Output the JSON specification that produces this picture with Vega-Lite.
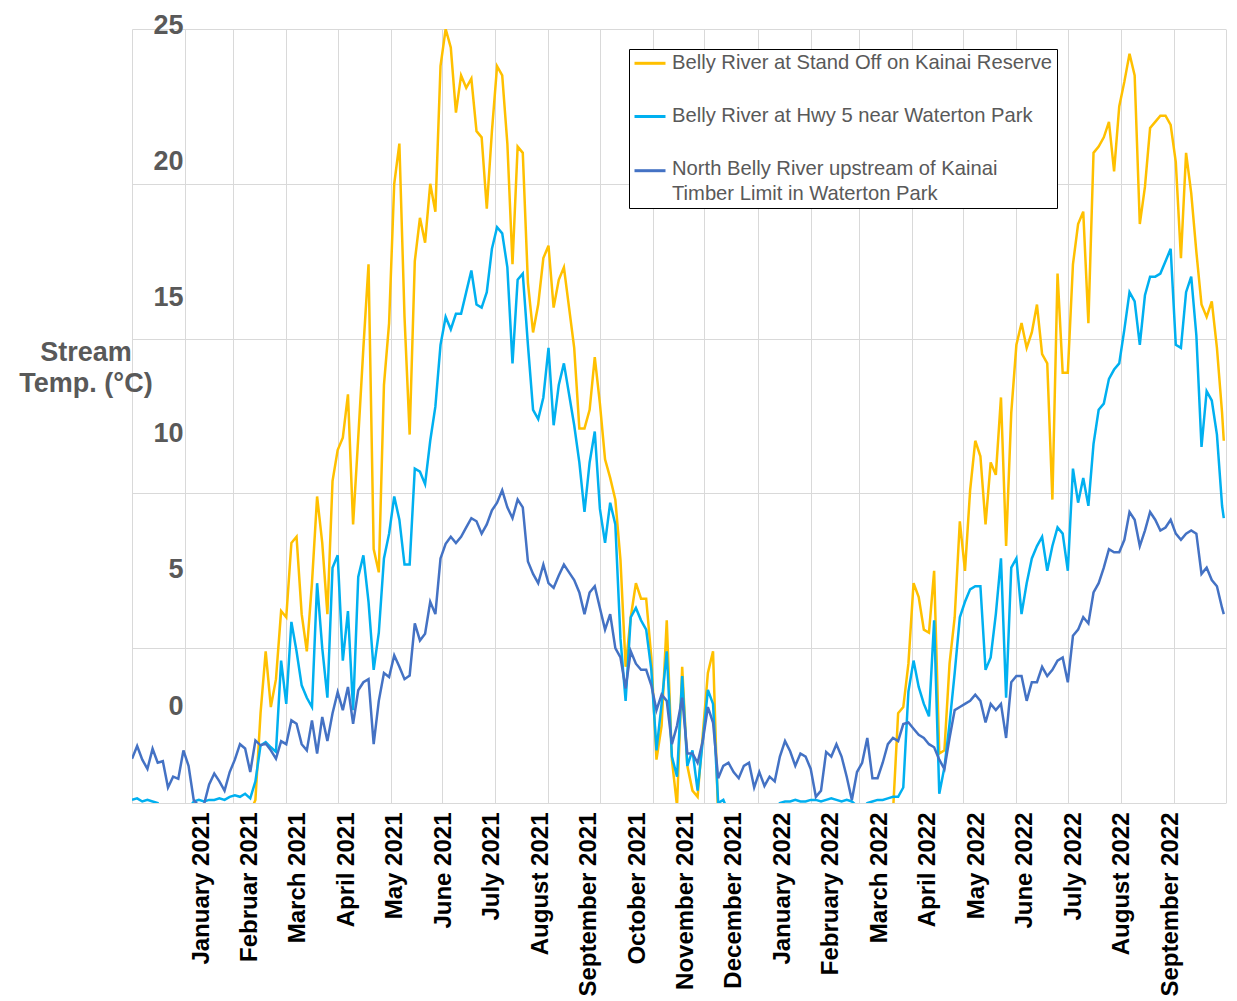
{
  "$schema": "https://vega.github.io/schema/vega-lite/v6.json",
  "width": 1093.5,
  "height": 774,
  "autosize": {"type": "none"},
  "padding": {"left": 132, "top": 29, "right": 11.5, "bottom": 198},
  "background": "white",
  "config": {"view": {"stroke": null}, "font": "Liberation Sans"},
  "datasets": {
    "names": [
      {"key": "Y", "site": "Belly River at Stand Off on Kainai Reserve"},
      {"key": "H", "site": "Belly River at Hwy 5 near Waterton Park"},
      {"key": "N", "site": "North Belly River upstream of Kainai Timber Limit in Waterton Park"}
    ]
  },
  "data": {"values": [
    {"d":"2021-01-01","Y":-0.5,"H":0.1,"N":1.43},
    {"d":"2021-01-04","Y":-0.5,"H":0.15,"N":1.84},
    {"d":"2021-01-07","Y":-0.5,"H":0.05,"N":1.4},
    {"d":"2021-01-10","Y":-0.5,"H":0.1,"N":1.1},
    {"d":"2021-01-13","Y":-0.5,"H":0.05,"N":1.75},
    {"d":"2021-01-16","Y":-0.5,"H":0.0,"N":1.3},
    {"d":"2021-01-19","Y":-0.5,"H":-0.3,"N":1.35},
    {"d":"2021-01-22","Y":-0.5,"H":-0.3,"N":0.5},
    {"d":"2021-01-25","Y":-0.5,"H":-0.3,"N":0.85},
    {"d":"2021-01-28","Y":-0.5,"H":-0.3,"N":0.78},
    {"d":"2021-01-31","Y":-0.5,"H":-0.3,"N":1.7},
    {"d":"2021-02-03","Y":-0.5,"H":-0.2,"N":1.2},
    {"d":"2021-02-06","Y":-0.5,"H":0.05,"N":0.1},
    {"d":"2021-02-09","Y":-0.5,"H":0.1,"N":-0.1},
    {"d":"2021-02-12","Y":-0.5,"H":0.05,"N":-0.05},
    {"d":"2021-02-15","Y":-0.5,"H":0.1,"N":0.6},
    {"d":"2021-02-18","Y":-0.5,"H":0.1,"N":0.95},
    {"d":"2021-02-21","Y":-0.5,"H":0.15,"N":0.7},
    {"d":"2021-02-24","Y":-0.5,"H":0.1,"N":0.4},
    {"d":"2021-02-27","Y":-0.5,"H":0.2,"N":1.0},
    {"d":"2021-03-02","Y":-0.5,"H":0.25,"N":1.4},
    {"d":"2021-03-05","Y":-0.5,"H":0.2,"N":1.9},
    {"d":"2021-03-08","Y":-0.5,"H":0.3,"N":1.76},
    {"d":"2021-03-11","Y":-0.3,"H":0.15,"N":1.0},
    {"d":"2021-03-14","Y":0.1,"H":0.7,"N":2.02},
    {"d":"2021-03-17","Y":2.9,"H":1.86,"N":1.86},
    {"d":"2021-03-20","Y":4.9,"H":1.97,"N":1.92},
    {"d":"2021-03-23","Y":3.1,"H":1.8,"N":1.7},
    {"d":"2021-03-26","Y":4.0,"H":1.65,"N":1.43},
    {"d":"2021-03-29","Y":6.2,"H":4.6,"N":2.0},
    {"d":"2021-04-01","Y":6.0,"H":3.2,"N":1.9},
    {"d":"2021-04-04","Y":8.4,"H":5.85,"N":2.67},
    {"d":"2021-04-07","Y":8.6,"H":4.9,"N":2.56},
    {"d":"2021-04-10","Y":6.1,"H":3.8,"N":1.9},
    {"d":"2021-04-13","Y":4.9,"H":3.4,"N":1.7},
    {"d":"2021-04-16","Y":7.1,"H":3.1,"N":2.67},
    {"d":"2021-04-19","Y":9.9,"H":7.1,"N":1.6},
    {"d":"2021-04-22","Y":8.4,"H":5.0,"N":2.78},
    {"d":"2021-04-25","Y":6.1,"H":3.4,"N":2.0},
    {"d":"2021-04-28","Y":10.4,"H":7.6,"N":2.9},
    {"d":"2021-05-01","Y":11.4,"H":8.0,"N":3.58},
    {"d":"2021-05-04","Y":11.8,"H":4.6,"N":3.0},
    {"d":"2021-05-07","Y":13.2,"H":6.2,"N":3.75},
    {"d":"2021-05-10","Y":9.0,"H":3.0,"N":2.56},
    {"d":"2021-05-13","Y":11.8,"H":7.3,"N":3.64},
    {"d":"2021-05-16","Y":14.7,"H":8.0,"N":3.9},
    {"d":"2021-05-19","Y":17.4,"H":6.5,"N":4.0},
    {"d":"2021-05-22","Y":8.2,"H":4.3,"N":1.9},
    {"d":"2021-05-25","Y":7.45,"H":5.5,"N":3.3},
    {"d":"2021-05-28","Y":13.5,"H":7.9,"N":4.2},
    {"d":"2021-05-31","Y":15.5,"H":8.7,"N":4.07},
    {"d":"2021-06-03","Y":20.0,"H":9.9,"N":4.77},
    {"d":"2021-06-06","Y":21.3,"H":9.15,"N":4.4},
    {"d":"2021-06-09","Y":15.7,"H":7.7,"N":4.0},
    {"d":"2021-06-12","Y":11.9,"H":7.7,"N":4.12},
    {"d":"2021-06-15","Y":17.5,"H":10.8,"N":5.8},
    {"d":"2021-06-18","Y":18.9,"H":10.7,"N":5.25},
    {"d":"2021-06-21","Y":18.1,"H":10.3,"N":5.47},
    {"d":"2021-06-24","Y":20.0,"H":11.7,"N":6.5},
    {"d":"2021-06-27","Y":19.1,"H":12.8,"N":6.1},
    {"d":"2021-06-30","Y":23.8,"H":14.8,"N":7.9},
    {"d":"2021-07-03","Y":25.0,"H":15.7,"N":8.37},
    {"d":"2021-07-06","Y":24.4,"H":15.3,"N":8.6},
    {"d":"2021-07-09","Y":22.3,"H":15.8,"N":8.4},
    {"d":"2021-07-12","Y":23.5,"H":15.8,"N":8.6},
    {"d":"2021-07-15","Y":23.1,"H":16.5,"N":8.9},
    {"d":"2021-07-18","Y":23.4,"H":17.2,"N":9.2},
    {"d":"2021-07-21","Y":21.7,"H":16.1,"N":9.1},
    {"d":"2021-07-24","Y":21.5,"H":16.0,"N":8.7},
    {"d":"2021-07-27","Y":19.2,"H":16.5,"N":9.0},
    {"d":"2021-07-30","Y":21.7,"H":17.9,"N":9.45},
    {"d":"2021-08-02","Y":23.8,"H":18.6,"N":9.7},
    {"d":"2021-08-05","Y":23.5,"H":18.4,"N":10.1},
    {"d":"2021-08-08","Y":21.3,"H":17.3,"N":9.55},
    {"d":"2021-08-11","Y":17.4,"H":14.2,"N":9.2},
    {"d":"2021-08-14","Y":21.2,"H":16.9,"N":9.8},
    {"d":"2021-08-17","Y":21.0,"H":17.1,"N":9.55},
    {"d":"2021-08-20","Y":16.8,"H":14.8,"N":7.8},
    {"d":"2021-08-23","Y":15.2,"H":12.7,"N":7.4},
    {"d":"2021-08-26","Y":16.1,"H":12.4,"N":7.1},
    {"d":"2021-08-29","Y":17.6,"H":13.1,"N":7.7},
    {"d":"2021-09-01","Y":18.0,"H":14.7,"N":7.1},
    {"d":"2021-09-04","Y":16.0,"H":12.2,"N":6.95},
    {"d":"2021-09-07","Y":16.9,"H":13.5,"N":7.35},
    {"d":"2021-09-10","Y":17.3,"H":14.2,"N":7.7},
    {"d":"2021-09-13","Y":16.0,"H":13.2,"N":7.45},
    {"d":"2021-09-16","Y":14.7,"H":12.2,"N":7.2},
    {"d":"2021-09-19","Y":12.1,"H":11.0,"N":6.8},
    {"d":"2021-09-22","Y":12.1,"H":9.4,"N":6.1},
    {"d":"2021-09-25","Y":12.7,"H":11.0,"N":6.8},
    {"d":"2021-09-28","Y":14.4,"H":12.0,"N":7.0},
    {"d":"2021-10-01","Y":12.9,"H":9.5,"N":6.3},
    {"d":"2021-10-04","Y":11.1,"H":8.4,"N":5.6},
    {"d":"2021-10-07","Y":10.5,"H":9.7,"N":6.1},
    {"d":"2021-10-10","Y":9.8,"H":9.0,"N":5.0},
    {"d":"2021-10-13","Y":7.85,"H":5.3,"N":4.7},
    {"d":"2021-10-16","Y":4.4,"H":3.3,"N":3.7},
    {"d":"2021-10-19","Y":6.0,"H":6.0,"N":4.9},
    {"d":"2021-10-22","Y":7.1,"H":6.3,"N":4.5},
    {"d":"2021-10-25","Y":6.6,"H":5.9,"N":4.3},
    {"d":"2021-10-28","Y":6.6,"H":5.6,"N":4.3},
    {"d":"2021-10-31","Y":4.7,"H":4.3,"N":3.8},
    {"d":"2021-11-03","Y":1.4,"H":1.7,"N":3.0},
    {"d":"2021-11-06","Y":2.5,"H":3.2,"N":3.5},
    {"d":"2021-11-09","Y":5.9,"H":4.9,"N":3.3},
    {"d":"2021-11-12","Y":1.4,"H":1.5,"N":1.9},
    {"d":"2021-11-15","Y":-0.1,"H":0.85,"N":2.5},
    {"d":"2021-11-18","Y":4.4,"H":4.1,"N":3.4},
    {"d":"2021-11-21","Y":1.2,"H":1.2,"N":1.6},
    {"d":"2021-11-24","Y":0.4,"H":1.7,"N":1.6},
    {"d":"2021-11-27","Y":0.2,"H":0.4,"N":1.3},
    {"d":"2021-11-30","Y":2.2,"H":2.0,"N":2.0},
    {"d":"2021-12-03","Y":4.2,"H":3.65,"N":3.1},
    {"d":"2021-12-06","Y":4.9,"H":3.2,"N":2.6},
    {"d":"2021-12-09","Y":-0.5,"H":0.0,"N":0.8},
    {"d":"2021-12-12","Y":-0.5,"H":0.1,"N":1.2},
    {"d":"2021-12-15","Y":-0.5,"H":-0.3,"N":1.3},
    {"d":"2021-12-18","Y":-0.5,"H":-0.3,"N":1.0},
    {"d":"2021-12-21","Y":-0.5,"H":-0.3,"N":0.8},
    {"d":"2021-12-24","Y":-0.5,"H":-0.3,"N":1.2},
    {"d":"2021-12-27","Y":-0.5,"H":-0.3,"N":1.3},
    {"d":"2021-12-30","Y":-0.5,"H":-0.2,"N":0.5},
    {"d":"2022-01-02","Y":-0.5,"H":-0.3,"N":1.0},
    {"d":"2022-01-05","Y":-0.5,"H":-0.3,"N":0.55},
    {"d":"2022-01-08","Y":-0.5,"H":-0.3,"N":0.85},
    {"d":"2022-01-11","Y":-0.5,"H":-0.2,"N":0.7},
    {"d":"2022-01-14","Y":-0.5,"H":0.0,"N":1.5},
    {"d":"2022-01-17","Y":-0.5,"H":0.05,"N":2.0},
    {"d":"2022-01-20","Y":-0.5,"H":0.05,"N":1.67},
    {"d":"2022-01-23","Y":-0.5,"H":0.1,"N":1.2},
    {"d":"2022-01-26","Y":-0.5,"H":0.05,"N":1.6},
    {"d":"2022-01-29","Y":-0.5,"H":0.05,"N":1.5},
    {"d":"2022-02-01","Y":-0.5,"H":0.1,"N":1.1},
    {"d":"2022-02-04","Y":-0.5,"H":0.1,"N":0.2},
    {"d":"2022-02-07","Y":-0.5,"H":0.05,"N":0.4},
    {"d":"2022-02-10","Y":-0.5,"H":0.1,"N":1.65},
    {"d":"2022-02-13","Y":-0.5,"H":0.15,"N":1.5},
    {"d":"2022-02-16","Y":-0.5,"H":0.1,"N":1.9},
    {"d":"2022-02-19","Y":-0.5,"H":0.05,"N":1.5},
    {"d":"2022-02-22","Y":-0.5,"H":0.1,"N":0.85},
    {"d":"2022-02-25","Y":-0.5,"H":0.05,"N":0.1},
    {"d":"2022-02-28","Y":-0.5,"H":-0.1,"N":1.0},
    {"d":"2022-03-03","Y":-0.5,"H":-0.2,"N":1.3},
    {"d":"2022-03-06","Y":-0.5,"H":0.0,"N":2.1},
    {"d":"2022-03-09","Y":-0.5,"H":0.05,"N":0.8},
    {"d":"2022-03-12","Y":-0.5,"H":0.1,"N":0.8},
    {"d":"2022-03-15","Y":-0.5,"H":0.1,"N":1.3},
    {"d":"2022-03-18","Y":-0.5,"H":0.15,"N":1.9},
    {"d":"2022-03-21","Y":-0.3,"H":0.2,"N":2.1},
    {"d":"2022-03-24","Y":2.9,"H":0.2,"N":2.0},
    {"d":"2022-03-27","Y":3.1,"H":0.5,"N":2.55},
    {"d":"2022-03-30","Y":4.5,"H":3.6,"N":2.6},
    {"d":"2022-04-02","Y":7.1,"H":4.6,"N":2.4},
    {"d":"2022-04-05","Y":6.65,"H":3.75,"N":2.2},
    {"d":"2022-04-08","Y":5.6,"H":3.2,"N":2.1},
    {"d":"2022-04-11","Y":5.5,"H":2.8,"N":1.9},
    {"d":"2022-04-14","Y":7.5,"H":5.9,"N":1.8},
    {"d":"2022-04-17","Y":1.6,"H":0.3,"N":1.4},
    {"d":"2022-04-20","Y":1.7,"H":1.15,"N":1.1},
    {"d":"2022-04-23","Y":4.5,"H":2.56,"N":2.1},
    {"d":"2022-04-26","Y":6.0,"H":4.2,"N":3.0},
    {"d":"2022-04-29","Y":9.1,"H":6.0,"N":3.1},
    {"d":"2022-05-02","Y":7.5,"H":6.5,"N":3.2},
    {"d":"2022-05-05","Y":10.1,"H":6.9,"N":3.3},
    {"d":"2022-05-08","Y":11.7,"H":7.0,"N":3.5},
    {"d":"2022-05-11","Y":11.2,"H":7.0,"N":3.3},
    {"d":"2022-05-14","Y":9.0,"H":4.3,"N":2.6},
    {"d":"2022-05-17","Y":11.0,"H":4.7,"N":3.2},
    {"d":"2022-05-20","Y":10.6,"H":6.1,"N":3.0},
    {"d":"2022-05-23","Y":13.1,"H":7.9,"N":3.2},
    {"d":"2022-05-26","Y":8.3,"H":3.4,"N":2.1},
    {"d":"2022-05-29","Y":12.6,"H":7.6,"N":3.9},
    {"d":"2022-06-01","Y":14.8,"H":7.9,"N":4.1},
    {"d":"2022-06-04","Y":15.5,"H":6.1,"N":4.1},
    {"d":"2022-06-07","Y":14.7,"H":7.1,"N":3.3},
    {"d":"2022-06-10","Y":15.2,"H":7.9,"N":3.9},
    {"d":"2022-06-13","Y":16.1,"H":8.3,"N":3.9},
    {"d":"2022-06-16","Y":14.5,"H":8.6,"N":4.4},
    {"d":"2022-06-19","Y":14.2,"H":7.5,"N":4.1},
    {"d":"2022-06-22","Y":9.8,"H":8.3,"N":4.3},
    {"d":"2022-06-25","Y":17.1,"H":8.9,"N":4.6},
    {"d":"2022-06-28","Y":13.9,"H":8.7,"N":4.7},
    {"d":"2022-07-01","Y":13.9,"H":7.5,"N":3.9},
    {"d":"2022-07-04","Y":17.4,"H":10.8,"N":5.4},
    {"d":"2022-07-07","Y":18.7,"H":9.7,"N":5.6},
    {"d":"2022-07-10","Y":19.1,"H":10.5,"N":6.0},
    {"d":"2022-07-13","Y":15.5,"H":9.6,"N":5.8},
    {"d":"2022-07-16","Y":21.0,"H":11.6,"N":6.8},
    {"d":"2022-07-19","Y":21.2,"H":12.7,"N":7.1},
    {"d":"2022-07-22","Y":21.5,"H":12.9,"N":7.6},
    {"d":"2022-07-25","Y":22.0,"H":13.7,"N":8.2},
    {"d":"2022-07-28","Y":20.4,"H":14.0,"N":8.1},
    {"d":"2022-07-31","Y":22.5,"H":14.2,"N":8.1},
    {"d":"2022-08-03","Y":23.3,"H":15.3,"N":8.5},
    {"d":"2022-08-06","Y":24.2,"H":16.5,"N":9.4},
    {"d":"2022-08-09","Y":23.5,"H":16.2,"N":9.15},
    {"d":"2022-08-12","Y":18.7,"H":14.8,"N":8.3},
    {"d":"2022-08-15","Y":19.9,"H":16.4,"N":8.8},
    {"d":"2022-08-18","Y":21.8,"H":17.0,"N":9.4},
    {"d":"2022-08-21","Y":22.0,"H":17.0,"N":9.15},
    {"d":"2022-08-24","Y":22.2,"H":17.1,"N":8.8},
    {"d":"2022-08-27","Y":22.2,"H":17.5,"N":8.9},
    {"d":"2022-08-30","Y":21.9,"H":17.9,"N":9.15},
    {"d":"2022-09-02","Y":20.7,"H":14.8,"N":8.7},
    {"d":"2022-09-05","Y":17.6,"H":14.7,"N":8.5},
    {"d":"2022-09-08","Y":21.0,"H":16.5,"N":8.7},
    {"d":"2022-09-11","Y":19.7,"H":17.0,"N":8.8},
    {"d":"2022-09-14","Y":17.8,"H":15.1,"N":8.7},
    {"d":"2022-09-17","Y":16.1,"H":11.5,"N":7.4},
    {"d":"2022-09-20","Y":15.7,"H":13.3,"N":7.6},
    {"d":"2022-09-23","Y":16.2,"H":13.0,"N":7.2},
    {"d":"2022-09-26","Y":14.7,"H":11.9,"N":7.0},
    {"d":"2022-09-29","Y":12.6,"H":9.6,"N":6.3},
    {"d":"2022-09-30","Y":11.7,"H":9.2,"N":6.1}
  ]},
  "transform": [
    {"fold": ["Y", "H", "N"], "as": ["key", "temp"]},
    {"lookup": "key", "from": {"data": {"name": "names"}, "key": "key", "fields": ["site"]}}
  ],
  "mark": {"type": "line", "clip": true, "strokeWidth": 2.5},
  "encoding": {
    "x": {
      "field": "d",
      "type": "temporal",
      "scale": {
        "type": "utc",
        "domain": [
          {"year": 2021, "month": 1, "date": 1, "utc": true},
          {"year": 2022, "month": 10, "date": 1, "utc": true}
        ]
      },
      "axis": {
        "title": null,
        "tickCount": {"interval": "month", "step": 1},
        "grid": true,
        "gridColor": "#d9d9d9",
        "gridWidth": 1,
        "ticks": false,
        "tickSize": 0,
        "domain": true,
        "domainColor": "#d9d9d9",
        "labelAngle": 270,
        "labelAlign": "right",
        "labelBaseline": "middle",
        "labelPadding": 9,
        "labelFlush": false,
        "labelOverlap": false,
        "labelLimit": 500,
        "labelFont": "Liberation Sans",
        "labelFontSize": 24,
        "labelFontWeight": "bold",
        "labelColor": "#000000",
        "labelExpr": "(utcyear(datum.value) == 2021 && utcmonth(datum.value) == 1) ? 'Februar 2021' : ((utcyear(datum.value) == 2022 && utcmonth(datum.value) == 9) ? '' : utcFormat(datum.value, '%B %Y'))",
        "labelOffset": {"expr": "69 + 48.45 * ((utcyear(datum.value) - 2021) * 12 + utcmonth(datum.value)) - scale('x', datum.value)"}
      }
    },
    "y": {
      "field": "temp",
      "type": "quantitative",
      "scale": {"domain": [0, 25], "nice": false, "zero": false},
      "axis": {
        "values": [0, 5, 10, 15, 20, 25],
        "grid": true,
        "gridColor": "#d9d9d9",
        "gridWidth": 1,
        "domain": false,
        "ticks": false,
        "tickSize": 0,
        "labelAlign": "right",
        "labelBaseline": "middle",
        "labelPadding": -51,
        "labelOverlap": false,
        "labelFont": "Liberation Sans",
        "labelFontSize": 27,
        "labelFontWeight": "bold",
        "labelColor": "#595959",
        "labelOffset": {"expr": "-97 + 3.73 * datum.value"},
        "title": ["Stream", "Temp. (°C)"],
        "titleAngle": 0,
        "titleAlign": "center",
        "titleBaseline": "alphabetic",
        "titleX": -46.5,
        "titleY": 331,
        "titleFont": "Liberation Sans",
        "titleFontSize": 27,
        "titleFontWeight": "bold",
        "titleColor": "#595959",
        "titleLineHeight": 31
      }
    },
    "color": {
      "field": "site",
      "type": "nominal",
      "scale": {
        "domain": [
          "Belly River at Stand Off on Kainai Reserve",
          "Belly River at Hwy 5 near Waterton Park",
          "North Belly River upstream of Kainai Timber Limit in Waterton Park"
        ],
        "range": ["#FFC000", "#00B0F0", "#4472C4"]
      },
      "legend": {
        "title": null,
        "orient": "none",
        "legendX": 497,
        "legendY": 20,
        "fillColor": "white",
        "strokeColor": "black",
        "padding": 4,
        "symbolType": "stroke",
        "symbolSize": 961,
        "symbolStrokeWidth": 3,
        "rowPadding": 32.2,
        "labelOffset": 5,
        "labelFont": "Liberation Sans",
        "labelFontSize": 20.2,
        "labelColor": "#595959",
        "labelLimit": 1000,
        "labelBaseline": "middle",
        "labelExpr": "datum.label == 'North Belly River upstream of Kainai Timber Limit in Waterton Park' ? ['North Belly River upstream of Kainai', 'Timber Limit in Waterton Park'] : datum.label",
        "encoding": {
          "symbols": {
            "y": {"value": 10.3}
          },
          "labels": {
            "baseline": {"condition": {"test": "datum.value === 'North Belly River upstream of Kainai Timber Limit in Waterton Park'", "value": "alphabetic"}, "value": "middle"},
            "dy": {"condition": {"test": "datum.value === 'North Belly River upstream of Kainai Timber Limit in Waterton Park'", "value": -2.8}, "value": -7.3},
            "lineHeight": {"value": 25}
          }
        }
      }
    }
  }
}
